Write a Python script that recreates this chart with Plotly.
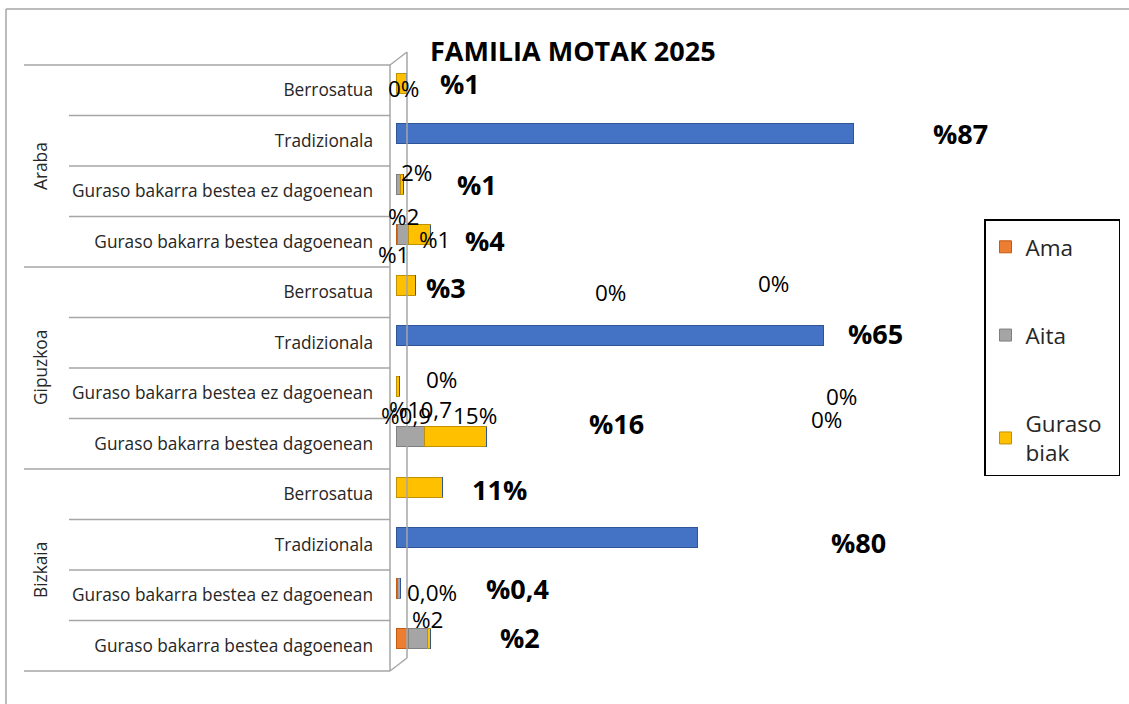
import plotly.graph_objects as go

W, H = 1129, 704

# ---------------- data ----------------
regions = ["Araba", "Gipuzkoa", "Bizkaia"]
family_types = ["Berrosatua", "Tradizionala",
                "Guraso bakarra bestea ez dagoenean",
                "Guraso bakarra bestea dagoenean"]
row_labels = family_types * 3
rows = list(range(12))

# bar lengths as drawn on the chart's value axis (0-100)
ama = [0, 0, 0, 0.2, 0, 0, 0, 0, 0, 0, 0.3, 2.0]
aita = [0, 0, 0.8, 1.9, 0, 0, 0, 4.7, 0, 0, 0.5, 3.3]
guraso_biak = [1.7, 0, 0.5, 3.7, 3.3, 0, 0.5, 10.3, 7.7, 0, 0, 0.5]
tradizionala = [0, 76.2, 0, 0, 0, 71.2, 0, 0, 0, 50.2, 0, 0]

# data labels as printed on the chart: (text, px x, px y, bold)
labels = [
    ("0%", 403, 88, False), ("%1", 460, 83, True),
    ("%87", 960, 134, True),
    ("2%", 416, 172, False), ("%1", 477, 184, True),
    ("%2", 403, 216, False), ("%1", 434, 240, False),
    ("%4", 485, 241, True), ("%1", 393, 254, False),
    ("%3", 446, 287, True), ("0%", 611, 292, False),
    ("0%", 773, 284, False), ("%65", 875, 334, True),
    ("0%", 441, 379, False), ("0%", 841, 396, False),
    ("%10,7", 420, 409, False), ("%0,9", 406, 415, False),
    ("15%", 475, 415, False), ("%16", 616, 423, True),
    ("0%", 826, 419, False),
    ("11%", 499, 489, True), ("%80", 858, 542, True),
    ("0,0%", 432, 592, False), ("%0,4", 517, 588, True),
    ("%2", 427, 619, False), ("%2", 520, 637, True),
]

colors = {"Ama": "#ED7D31", "Aita": "#A5A5A5", "Guraso biak": "#FFC000",
          "Tradizionala": "#4472C4"}
edge = {"Ama": "#C55A11", "Aita": "#7F7F7F", "Guraso biak": "#BF9000",
        "Tradizionala": "#2F5597"}

FONT = "Open Sans"
NORMAL_SIZE, BOLD_SIZE = 22.5, 27

def px(x):
    return x / W

def py(y):
    return 1 - y / H

# plot area geometry (pixels)
X0, X1 = 396, 996
Y0, Y1 = 65, 671
ROW = (Y1 - Y0) / 12

fig = go.Figure()
series = [("Ama", ama, True), ("Aita", aita, True),
          ("Guraso biak", guraso_biak, True), ("Tradizionala", tradizionala, False)]
for name, vals, show in series:
    fig.add_trace(go.Bar(
        y=rows, x=vals, orientation="h",
        name="Guraso\u00a0\u00a0<br>biak" if name == "Guraso biak" else name,
        legendgroup=name, showlegend=show,
        width=0.4, offset=-0.34,
        marker=dict(color=colors[name], line=dict(color=edge[name], width=1)),
        hoverinfo="x+name",
    ))

annotations = []
for text, x, y, bold in labels:
    annotations.append(dict(
        text=f"<b>{text}</b>" if bold else text, x=px(x), y=py(y),
        xref="paper", yref="paper", showarrow=False,
        xanchor="center", yanchor="middle",
        font=dict(family=FONT, size=BOLD_SIZE if bold else NORMAL_SIZE,
                  color="#000000")))

# group labels (rotated)
for i, r in enumerate(regions):
    yc = Y0 + ROW * (4 * i + 2)
    annotations.append(dict(
        text=r, x=px(40), y=py(yc), xref="paper", yref="paper",
        showarrow=False, textangle=-90, xanchor="center", yanchor="middle",
        font=dict(family=FONT, size=17.3, color="#262626")))

# title
annotations.append(dict(
    text="<b>FAMILIA MOTAK 2025</b>", x=px(573), y=py(50),
    xref="paper", yref="paper", showarrow=False,
    xanchor="center", yanchor="middle",
    font=dict(family=FONT, size=27, color="#000000")))

shapes = []
grid = "#A6A6A6"
# outer chart border (top & left visible)
shapes.append(dict(type="line", xref="paper", yref="paper",
                   x0=px(6), x1=px(1129), y0=py(9), y1=py(9),
                   line=dict(color=grid, width=1.5)))
shapes.append(dict(type="line", xref="paper", yref="paper",
                   x0=px(6), x1=px(6), y0=py(9), y1=py(704),
                   line=dict(color=grid, width=1.5)))
# row separators
for k in range(13):
    y = Y0 + ROW * k
    xs = 24 if k % 4 == 0 else 69
    shapes.append(dict(type="line", xref="paper", yref="paper",
                       x0=px(xs), x1=px(390), y0=py(y), y1=py(y),
                       line=dict(color=grid, width=1.5)))
# 3D wall of the category axis
for (xa, ya, xb, yb) in [(390, Y0, 390, Y1), (407, 52, 407, 658),
                         (390, Y0, 407, 52), (390, Y1, 407, 658)]:
    shapes.append(dict(type="line", xref="paper", yref="paper",
                       x0=px(xa), x1=px(xb), y0=py(ya), y1=py(yb),
                       line=dict(color=grid, width=1.5)))

fig.update_layout(
    width=W, height=H, barmode="stack",
    margin=dict(l=0, r=0, t=0, b=0),
    paper_bgcolor="white", plot_bgcolor="rgba(0,0,0,0)",
    font=dict(family=FONT, size=17.3, color="#262626"),
    xaxis=dict(domain=[px(X0), px(X1)], range=[0, 100], visible=False),
    yaxis=dict(domain=[py(Y1), py(Y0)], range=[11.5, -0.5],
               tickmode="array", tickvals=rows, ticktext=row_labels,
               showgrid=False, zeroline=False, showline=False,
               ticks="", ticklabelstandoff=22,
               tickfont=dict(family=FONT, size=17.3, color="#262626")),
    legend=dict(x=px(984), y=py(219), xanchor="left", yanchor="top",
                bordercolor="#000000", borderwidth=1.5, bgcolor="white",
                font=dict(family=FONT, size=22.5, color="#262626"),
                title=dict(text="\u00a0", font=dict(size=4)),
                traceorder="grouped", tracegroupgap=56,
                itemclick=False, itemdoubleclick=False),
    annotations=annotations, shapes=shapes,
    showlegend=True,
)

fig.write_html("out.html", config={"displayModeBar": False},
               post_script="document.body.style.margin='0';")
